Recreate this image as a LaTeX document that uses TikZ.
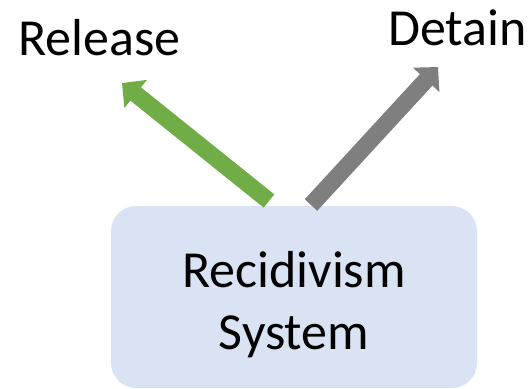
\documentclass[tikz,border=0pt]{standalone}
\usepackage{fontspec}
\setmainfont{Carlito}
\usetikzlibrary{arrows.meta}
\definecolor{boxfill}{HTML}{DAE3F3}
\definecolor{relgreen}{HTML}{70AD47}
\definecolor{detgray}{HTML}{7F7F7F}
\begin{document}
\begin{tikzpicture}[x=1pt,y=-1pt,
  bigtext/.style={font=\fontsize{52}{62}\selectfont, inner sep=0pt},
  sysbox/.style={fill=boxfill, rounded corners=25pt, inner sep=0pt,
    minimum width=366pt, minimum height=182pt},
  fatarrow/.style={line width=17pt, line cap=butt,
    -{Triangle[length=17.5pt,width=35pt]}}]
  \useasboundingbox (0,0) rectangle (529,388);
  % decision box
  \node[sysbox] (sys) at (294,297) {};
  \node[bigtext, align=center] (sysname) at (294,305) {Recidivism\\System};
  % outcome labels
  \node[bigtext, anchor=base west] (release) at (18,55) {Release};
  \node[bigtext, anchor=base west] (detain) at (388,45) {Detain};
  % arrow ends
  \coordinate (gtail) at (269,201);
  \coordinate (gtip) at (122,83);
  \coordinate (ktail) at (311,205);
  \coordinate (ktip) at (438,67);
  \draw[fatarrow, draw=relgreen, fill=relgreen] (gtail) -- (gtip);
  \draw[fatarrow, draw=detgray, fill=detgray] (ktail) -- (ktip);
\end{tikzpicture}
\end{document}
